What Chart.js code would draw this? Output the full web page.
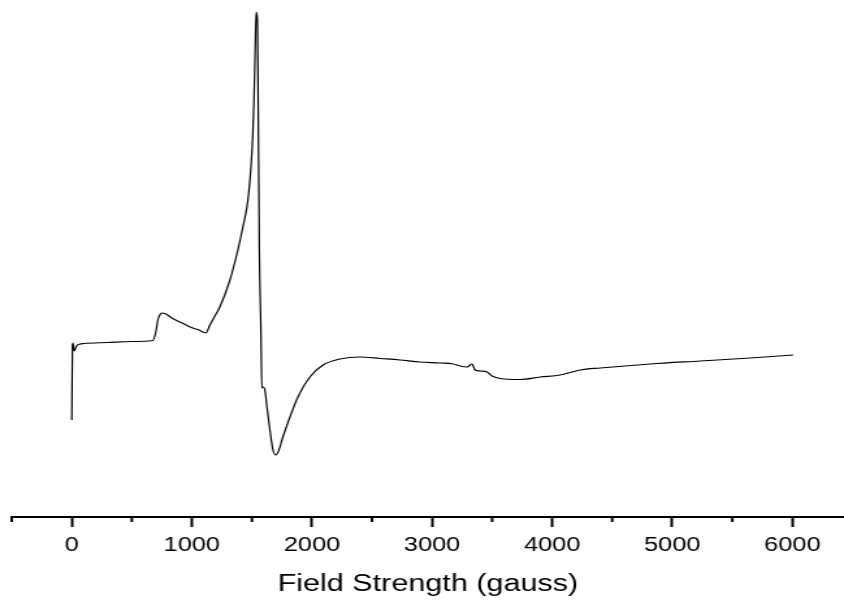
<!DOCTYPE html>
<html>
<head>
<meta charset="utf-8">
<script src="https://cdn.jsdelivr.net/npm/chart.js@4.4.1/dist/chart.umd.min.js"></script>
<style>
  html, body { margin: 0; padding: 0; background: #fff; }
  /* the original figure is stretched horizontally (~1.3x), so the canvas is too */
  #spectrum { display: block; width: 844px !important; height: 601px !important; }
</style>
</head>
<body>
<canvas id="spectrum" width="649" height="601"></canvas>
<script>
// field (gauss) and signal (arbitrary units)
const fieldGauss = [
  0, 6, 10, 20, 40, 70, 100, 300, 500, 675,
  700, 717, 733, 750, 783, 833, 900, 967, 1008, 1058,
  1117, 1150, 1192, 1233, 1317, 1383, 1425, 1467, 1492, 1508,
  1517, 1527, 1536, 1546, 1552, 1562, 1575, 1583, 1592, 1608,
  1625, 1650, 1675, 1700, 1725, 1758, 1817, 1883, 1983, 2092,
  2233, 2400, 2567, 2733, 2900, 3067, 3175, 3233, 3292, 3333,
  3358, 3400, 3458, 3500, 3567, 3733, 3900, 4067, 4233, 4400,
  4817, 5233, 5650, 6008
];
const signal = [
  -60, 15, 17, 9, 14, 16, 16.5, 17.5, 18.5, 19.5,
  28, 40, 45, 47, 46, 42, 38, 34, 32, 30,
  27, 35, 44, 53, 80, 110, 133, 160, 193, 227,
  260, 310, 348, 340, 260, 110, 30, -28, -27, -30,
  -47, -70, -90, -95, -90, -77, -57, -37, -17, -5,
  1, 3, 1.5, 0, -2, -3, -4, -6, -7, -4,
  -10, -11, -12, -16, -18.5, -19.5, -17, -15, -10, -8,
  -4, -1, 2, 5
];
const majorTicks = [0, 1000, 2000, 3000, 4000, 5000, 6000];
const minorTicks = [-500, 500, 1500, 2500, 3500, 4500, 5500];

const points = fieldGauss.map((g, i) => ({ x: g, y: signal[i] }));

// short minor ticks under the axis line
const minorTickPlugin = {
  id: "minorTicks",
  afterDraw(chart) {
    const { ctx, chartArea } = chart;
    const xs = chart.scales.x;
    ctx.save();
    ctx.strokeStyle = "#000";
    ctx.lineWidth = 2;
    minorTicks.forEach((v) => {
      const px = xs.getPixelForValue(v);
      ctx.beginPath();
      ctx.moveTo(px, chartArea.bottom);
      ctx.lineTo(px, chartArea.bottom + 5);
      ctx.stroke();
    });
    ctx.restore();
  },
};

new Chart(document.getElementById("spectrum"), {
  type: "line",
  data: {
    datasets: [{
      data: points,
      borderColor: "#000",
      borderWidth: 1.2,
      pointRadius: 0,
      cubicInterpolationMode: "monotone",
      fill: false,
    }],
  },
  options: {
    responsive: false,
    animation: false,
    layout: { padding: { left: 9, right: 0, top: 0, bottom: 0 } },
    plugins: { legend: { display: false }, tooltip: { enabled: false } },
    scales: {
      x: {
        type: "linear",
        min: -500,
        max: 6430,
        afterBuildTicks: (scale) => {
          scale.ticks = majorTicks.map((v) => ({ value: v }));
        },
        afterFit: (scale) => { scale.height = 84; },
        border: { display: true, color: "#000", width: 2 },
        grid: {
          drawOnChartArea: false,
          drawTicks: true,
          tickLength: 10,
          tickWidth: 2,
          tickColor: "#000",
        },
        ticks: {
          color: "#000",
          padding: 7,
          maxRotation: 0,
          callback: (v) => String(v),
          font: { family: "'Liberation Sans', Arial, sans-serif", size: 19.5 },
        },
        title: {
          display: true,
          text: "Field Strength (gauss)",
          color: "#000",
          padding: { top: 0, bottom: 2 },
          font: { family: "'Liberation Sans', Arial, sans-serif", size: 23.5 },
        },
      },
      y: {
        display: false,
        min: -157,
        max: 360,
      },
    },
  },
  plugins: [minorTickPlugin],
});
</script>
</body>
</html>
